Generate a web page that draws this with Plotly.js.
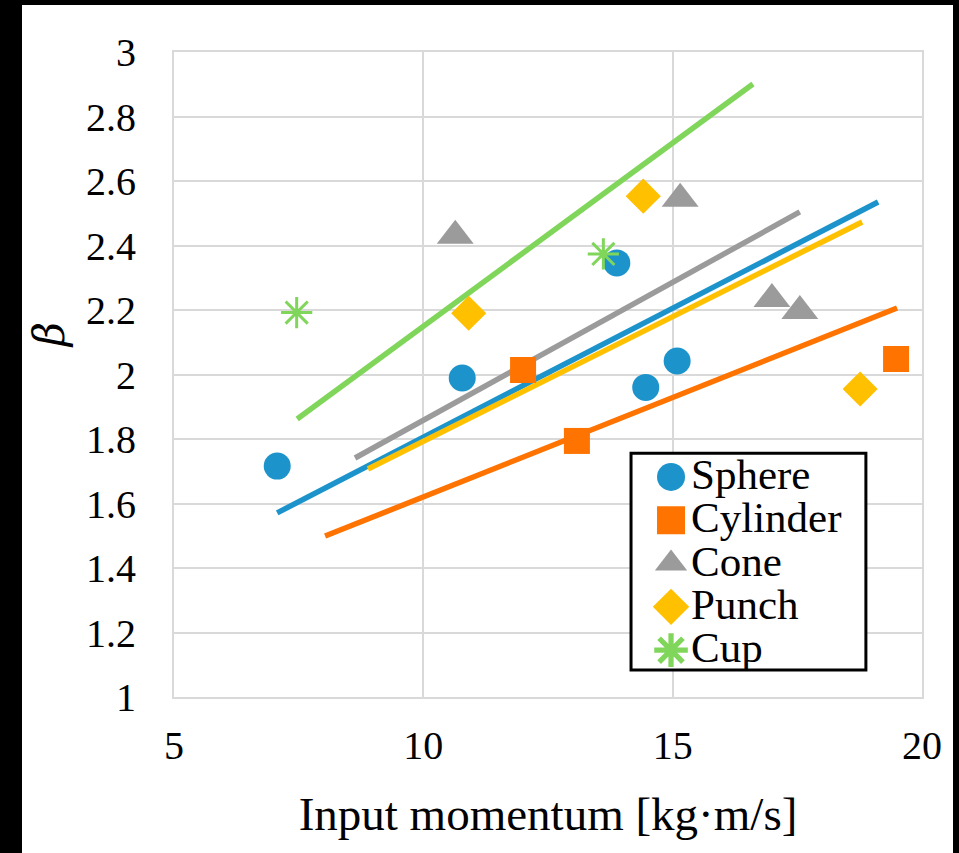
<!DOCTYPE html>
<html>
<head>
<meta charset="utf-8">
<script src="https://cdn.plot.ly/plotly-3.0.1.min.js"></script>
<style>
  html, body { margin: 0; padding: 0; background: #000; width: 959px; height: 853px; overflow: hidden; }
  #chart { position: absolute; left: 22px; top: 5px; width: 931px; height: 848px; background: #fff; }
</style>
</head>
<body>
<div id="chart"></div>
<script>
// ---- data ----
const sphereX = [7.07, 10.78, 13.88, 14.46, 15.09];
const sphereY = [1.716, 1.989, 2.346, 1.960, 2.042];
const cylinderX = [12.0, 13.08, 19.48];
const cylinderY = [2.014, 1.794, 2.048];
const coneX = [10.64, 15.15, 16.99, 17.55];
const coneY = [2.43, 2.545, 2.234, 2.197];
const punchX = [10.91, 14.41, 18.76];
const punchY = [2.19, 2.553, 1.955];
const cupX = [7.46, 13.61];
const cupY = [2.192, 2.374];

// trend lines (end points)
const sphereFitX = [7.07, 19.12];
const sphereFitY = [1.571, 2.535];
const cylinderFitX = [8.03, 19.5];
const cylinderFitY = [1.499, 2.206];
const coneFitX = [8.63, 17.55];
const coneFitY = [1.741, 2.504];
const punchFitX = [8.89, 18.8];
const punchFitY = [1.707, 2.473];
const cupFitX = [7.47, 16.61];
const cupFitY = [1.862, 2.901];

const seriesNames = ["Sphere", "Cylinder", "Cone", "Punch", "Cup"];
const xTickVals = [5, 10, 15, 20];
const xTickText = ["5", "10", "15", "20"];
const yTickVals = [1, 1.2, 1.4, 1.6, 1.8, 2, 2.2, 2.4, 2.6, 2.8, 3];
const yTickText = ["1", "1.2", "1.4", "1.6", "1.8", "2", "2.2", "2.4", "2.6", "2.8", "3"];
const xTitle = "Input momentum [kg·m/s]";
const yTitle = "β";

const colors = {
  sphere: "#1C94CB",
  cylinder: "#FF7300",
  cone: "#9B9B9B",
  punch: "#FFC000",
  cup: "#80D65A"
};

const FONT = "'Liberation Serif', 'Times New Roman', serif";

function legendName(n) {
  return '<span style="font-size:43px">' + n + '</span>';
}
function fit(x, y, c) {
  return { x: x, y: y, mode: "lines", type: "scatter", showlegend: false, hoverinfo: "skip",
           line: { color: c, width: 5.5 } };
}
function pts(x, y, name, c, symbol, size, extra) {
  const m = Object.assign({ color: c, size: size, symbol: symbol }, extra || {});
  return { x: x, y: y, mode: "markers", type: "scatter", name: legendName(name), marker: m };
}

const data = [
  fit(sphereFitX, sphereFitY, colors.sphere),
  fit(cylinderFitX, cylinderFitY, colors.cylinder),
  fit(coneFitX, coneFitY, colors.cone),
  fit(punchFitX, punchFitY, colors.punch),
  fit(cupFitX, cupFitY, colors.cup),
  pts(sphereX, sphereY, seriesNames[0], colors.sphere, "circle", 27),
  pts(cylinderX, cylinderY, seriesNames[1], colors.cylinder, "square", 26),
  pts(coneX, coneY, seriesNames[2], colors.cone, "triangle-up", 32),
  pts(punchX, punchY, seriesNames[3], colors.punch, "diamond", 27),
  pts(cupX, cupY, seriesNames[4], colors.cup, "asterisk-open", 26, { line: { color: colors.cup, width: 3 } })
];

// legend frame position (plot fractions)
const legendBox = { x0: 0.611, x1: 0.925, y0: 0.042, y1: 0.378 };

const layout = {
  width: 931, height: 848,
  paper_bgcolor: "#ffffff", plot_bgcolor: "#ffffff",
  margin: { l: 152, r: 31, t: 47, b: 156 },
  font: { family: FONT, color: "#000000" },
  showlegend: true,
  legend: {
    x: legendBox.x0, y: 0.3825, xanchor: "left", yanchor: "top",
    bgcolor: "rgba(0,0,0,0)", borderwidth: 0,
    font: { family: FONT, size: 31, color: "#000000" },
    itemsizing: "trace", tracegroupgap: 0, itemwidth: 50
  },
  shapes: [{
    type: "rect", xref: "x domain", yref: "y domain", layer: "above",
    x0: legendBox.x0, x1: legendBox.x1, y0: legendBox.y0, y1: legendBox.y1,
    fillcolor: "#ffffff", line: { color: "#000000", width: 3 }
  }],
  annotations: [{
    text: "<i>" + yTitle + "</i>", xref: "paper", yref: "paper", x: 0, y: 0.561,
    xanchor: "center", yanchor: "middle", xshift: -125, textangle: -90, showarrow: false,
    borderpad: 0,
    font: { family: "'DejaVu Serif', serif", size: 42, color: "#000000" }
  }],
  xaxis: {
    range: [5, 20], tickmode: "array", tickvals: xTickVals, ticktext: xTickText,
    showgrid: true, gridcolor: "#d9d9d9", gridwidth: 2,
    showline: true, linecolor: "#d9d9d9", linewidth: 2, mirror: true,
    zeroline: false, ticks: "outside", ticklen: 12, tickcolor: "rgba(0,0,0,0)",
    tickfont: { family: FONT, size: 40, color: "#000000" },
    title: { text: xTitle, font: { family: FONT, size: 47, color: "#000000" }, standoff: 30 },
    automargin: false, fixedrange: true
  },
  yaxis: {
    range: [1, 3], tickmode: "array", tickvals: yTickVals, ticktext: yTickText,
    showgrid: true, gridcolor: "#d9d9d9", gridwidth: 2,
    showline: true, linecolor: "#d9d9d9", linewidth: 2, mirror: true,
    zeroline: false, ticks: "outside", ticklen: 28, tickcolor: "rgba(0,0,0,0)",
    tickfont: { family: FONT, size: 40, color: "#000000" },
    automargin: false, fixedrange: true
  }
};

Plotly.newPlot("chart", data, layout, { displayModeBar: false, staticPlot: true }).then(function (gd) {
  // enlarge legend symbols to the size used in the reference
  gd.querySelectorAll(".legend .legendpoints path.scatterpts").forEach(function (p) {
    p.setAttribute("transform", "translate(40,0) scale(1.75)");
  });
});
</script>
</body>
</html>
